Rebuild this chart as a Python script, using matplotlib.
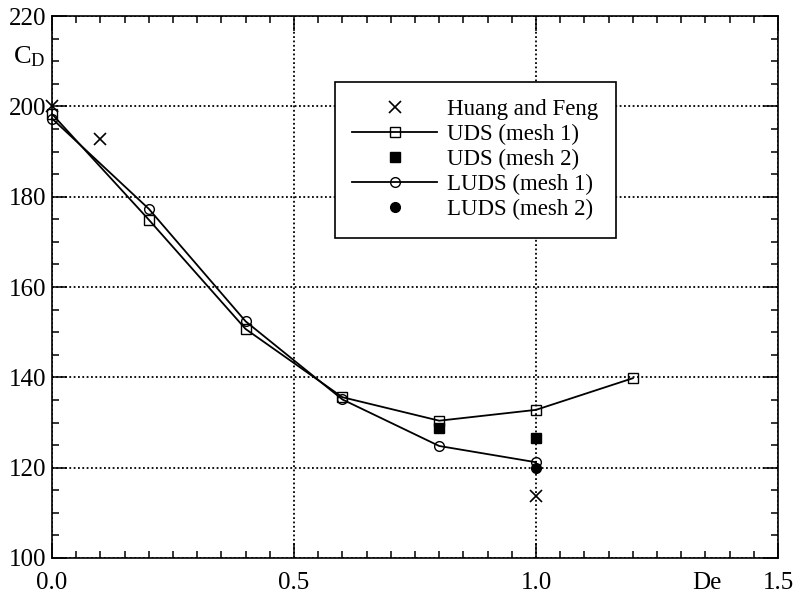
import matplotlib
matplotlib.use("Agg")
import matplotlib.pyplot as plt
from matplotlib.ticker import MultipleLocator

plt.rcParams['font.family'] = ['Liberation Serif', 'DejaVu Serif']
plt.rcParams['mathtext.fontset'] = 'custom'
plt.rcParams['mathtext.rm'] = 'Liberation Serif'

# Huang and Feng
de_hf = [0.0, 0.1, 1.0]
cd_hf = [200.0, 192.7, 113.7]
# UDS mesh 1 / mesh 2
de_uds1 = [0.0, 0.2, 0.4, 0.6, 0.8, 1.0, 1.2]
cd_uds1 = [198.3, 174.9, 150.7, 135.6, 130.4, 132.8, 139.8]
de_uds2 = [0.8, 1.0]
cd_uds2 = [128.8, 126.5]
# LUDS mesh 1 / mesh 2
de_luds1 = [0.0, 0.2, 0.4, 0.6, 0.8, 1.0]
cd_luds1 = [197.3, 177.3, 152.4, 135.1, 124.8, 121.2]
de_luds2 = [1.0]
cd_luds2 = [119.9]

xticks = [0.0, 0.5, 1.0, 1.5]
xticklabels = ['0.0', '0.5', '1.0', '1.5']
yticks = [100, 120, 140, 160, 180, 200, 220]

fig = plt.figure(figsize=(8.02, 5.99), dpi=100)
ax = fig.add_axes([52/802, 1-558/599, (778-52)/802, (558-16)/599])

ms = 7
ax.plot(de_hf, cd_hf, 'x', color='k', ms=8, mew=1.2, clip_on=False, label='Huang and Feng', zorder=5)
ax.plot(de_uds1, cd_uds1, '-s', color='k', lw=1.3, ms=ms, mfc='none', mew=1.0, clip_on=False, label='UDS (mesh 1)', zorder=4)
ax.plot(de_uds2, cd_uds2, 's', color='k', ms=ms, clip_on=False, label='UDS (mesh 2)', zorder=3)
ax.plot(de_luds1, cd_luds1, '-o', color='k', lw=1.3, ms=ms, mfc='none', mew=1.0, clip_on=False, label='LUDS (mesh 1)', zorder=4)
ax.plot(de_luds2, cd_luds2, 'o', color='k', ms=ms, clip_on=False, label='LUDS (mesh 2)', zorder=3)

ax.set_xlim(0, 1.5)
ax.set_ylim(100, 220)
ax.set_xticks(xticks)
ax.set_xticklabels(xticklabels)
ax.set_yticks(yticks)
ax.xaxis.set_minor_locator(MultipleLocator(0.05))
ax.yaxis.set_minor_locator(MultipleLocator(5))
ax.tick_params(which='both', direction='in', top=True, right=True, labelsize=18, width=1.1)
ax.tick_params(which='major', length=11)
ax.tick_params(which='minor', length=5)
ax.tick_params(axis='x', pad=10)
ax.tick_params(axis='y', pad=4)
for s in ax.spines.values():
    s.set_linewidth(1.2)
ax.grid(True, which='major', color='k', linestyle=(0, (1, 1.4)), linewidth=1.3)

ax.text(1.353, -14/542, 'De', transform=ax.get_xaxis_transform(), ha='center', va='top', fontsize=18)
fig.text(13/802, 1-63/599, r'$\mathrm{C_D}$', fontsize=19, va='baseline', ha='left')

leg = ax.legend(loc='upper left', bbox_to_anchor=((335-52)/726, (558-82)/542), fontsize=16.5,
                frameon=True, fancybox=False, handlelength=3.7, handletextpad=0.45,
                labelspacing=0.17, borderpad=0.75, borderaxespad=0)
leg.get_frame().set_edgecolor('k')
leg.get_frame().set_linewidth(1.2)
leg.get_frame().set_alpha(1)

fig.savefig('out.png', dpi=100)
